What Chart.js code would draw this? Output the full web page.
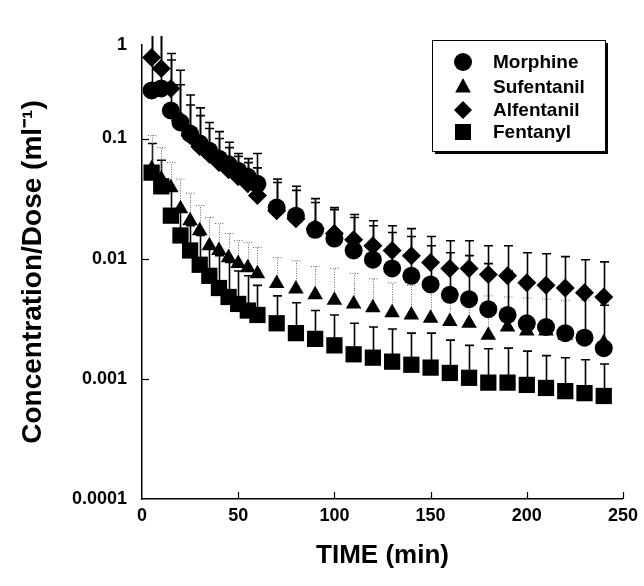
<!DOCTYPE html>
<html><head><meta charset="utf-8">
<script src="https://cdn.jsdelivr.net/npm/chart.js@4.4.0/dist/chart.umd.min.js"></script>
<style>html,body{margin:0;padding:0;background:#fff}</style>
</head><body>
<canvas id="c" width="644" height="586"></canvas>
<script>
const times = [5,10,15,20,25,30,35,40,45,50,55,60,70,80,90,100,110,120,130,140,150,160,170,180,190,200,210,220,230,240];
const seriesNames = ['Morphine','Sufentanil','Alfentanil','Fentanyl'];
const morphine = [0.251,0.261,0.171,0.136,0.110,0.091,0.079,0.068,0.061,0.054,0.048,0.042,0.0266,0.0228,0.0174,0.0147,0.0117,0.0098,0.0083,0.0072,0.0061,0.0050,0.0046,0.0038,0.0034,0.0029,0.0027,0.0024,0.0022,0.0018];
const morphineUpper = [0.79,0.79,0.51,0.37,0.23,0.18,0.136,0.114,0.093,0.075,0.068,0.075,0.043,0.037,0.0293,0.0256,0.022,0.0188,0.0165,0.0153,0.0128,0.0112,0.0106,0.0091,0.0079,0.0068,0.0062,0.0056,0.0051,0.0041];
const sufentanil = [0.056,0.046,0.039,0.026,0.0207,0.0171,0.0128,0.0117,0.0102,0.0091,0.0084,0.0075,0.0062,0.0056,0.0050,0.0045,0.0042,0.0039,0.00355,0.0034,0.0032,0.0030,0.0029,0.0023,0.0027,0.0025,0.0025,0.0023,0.0022,0.0020];
const sufentanilUpper = [0.106,0.084,0.063,0.046,0.035,0.0277,0.022,0.0196,0.0162,0.0141,0.0136,0.0124,0.0102,0.0096,0.0086,0.0083,0.0075,0.0068,0.0063,0.0060,0.0056,0.0054,0.0052,0.0049,0.0048,0.0047,0.0046,0.0045,0.0045,0.0043];
const alfentanil = [0.473,0.383,0.261,0.141,0.106,0.086,0.074,0.063,0.055,0.048,0.042,0.0335,0.0251,0.0215,0.0178,0.0162,0.0144,0.0128,0.0117,0.0106,0.0093,0.0083,0.0083,0.0074,0.0072,0.0063,0.0060,0.0057,0.0052,0.0048];
const alfentanilUpper = [0.79,0.79,0.45,0.28,0.19,0.155,0.121,0.1,0.084,0.071,0.063,0.057,0.046,0.040,0.0316,0.0266,0.0233,0.0207,0.0188,0.0178,0.0153,0.0141,0.0141,0.0128,0.0128,0.0112,0.0110,0.0104,0.0098,0.0094];
const fentanyl = [0.052,0.040,0.0228,0.0156,0.0117,0.0089,0.0072,0.0057,0.0048,0.0042,0.0037,0.0034,0.0029,0.0024,0.00215,0.0019,0.0016,0.0015,0.00139,0.00131,0.00124,0.00112,0.00102,0.00093,0.00093,0.00089,0.00084,0.00079,0.00076,0.00072];
const fentanylUpper = [0.091,0.066,0.037,0.025,0.0188,0.0156,0.0128,0.0106,0.0093,0.0079,0.0072,0.0060,0.0049,0.0043,0.0037,0.0034,0.0029,0.0027,0.0026,0.0024,0.0024,0.0021,0.0019,0.00178,0.0018,0.0017,0.00156,0.0015,0.00144,0.00133];
const yTickValues = [0.0001,0.001,0.01,0.1,0.6];
const yTickLabels = ['0.0001','0.001','0.01','0.1','1'];
const xTickValues = [0,50,100,150,200,250];

const FONT = '"Liberation Sans", Arial, Helvetica, sans-serif';

function mk(label, vals, upper, style, radius, dotted) {
  return {
    label, pointStyle: style, pointRadius: radius, pointHoverRadius: radius,
    backgroundColor: '#000', borderColor: '#000', borderWidth: 0, showLine: false,
    errUpper: upper, errDotted: dotted,
    data: times.map((t, i) => ({x: t, y: vals[i]}))
  };
}

const errorBars = {
  id: 'errorBars',
  beforeDatasetsDraw(chart) {
    const ctx = chart.ctx, xs = chart.scales.x, ys = chart.scales.y, a = chart.chartArea;
    const clipTop = a.top - 9;
    ctx.save();
    ctx.beginPath();
    ctx.rect(a.left, clipTop, a.right - a.left + 10, a.bottom - clipTop);
    ctx.clip();
    chart.data.datasets.slice().reverse().forEach(ds => {
      ctx.strokeStyle = ds.errDotted ? '#666' : '#000';
      ctx.lineWidth = ds.errDotted ? 1 : 1.6;
      ctx.setLineDash(ds.errDotted ? [1, 1.5] : []);
      ds.data.forEach((p, i) => {
        const x = Math.round(xs.getPixelForValue(p.x)) + 0.5;
        const y0 = ys.getPixelForValue(p.y);
        const y1 = ys.getPixelForValue(ds.errUpper[i]);
        ctx.beginPath();
        ctx.moveTo(x, y0); ctx.lineTo(x, y1);
        if (y1 > clipTop + 1) { ctx.moveTo(x - 4.5, y1); ctx.lineTo(x + 4.5, y1); }
        ctx.stroke();
      });
    });
    ctx.restore();
  }
};

const innerTicks = {
  id: 'innerTicks',
  afterDraw(chart) {
    const ctx = chart.ctx, xs = chart.scales.x, ys = chart.scales.y, a = chart.chartArea;
    ctx.save();
    ctx.strokeStyle = '#000'; ctx.lineWidth = 1.2;
    ys.ticks.forEach(t => {
      const y = Math.round(ys.getPixelForValue(t.value)) + 0.5;
      if (y > a.bottom - 2 || y < a.top + 2) return;
      ctx.beginPath(); ctx.moveTo(a.left, y); ctx.lineTo(a.left + 7, y); ctx.stroke();
    });
    xs.ticks.forEach(t => {
      if (t.value === 0) return;
      const x = Math.round(xs.getPixelForValue(t.value)) + 0.5;
      ctx.beginPath(); ctx.moveTo(x, a.bottom); ctx.lineTo(x, a.bottom - 7); ctx.stroke();
    });
    ctx.restore();
  }
};

const boxLegend = {
  id: 'boxLegend',
  afterDraw(chart) {
    const ctx = chart.ctx;
    const bx = 432, by = 40, bw = 173, bh = 111;
    ctx.save();
    ctx.fillStyle = '#000';
    ctx.fillRect(bx + 3, by + 3, bw, bh);
    ctx.fillStyle = '#fff';
    ctx.fillRect(bx, by, bw, bh);
    ctx.strokeStyle = '#000'; ctx.lineWidth = 1;
    ctx.strokeRect(bx + 0.5, by + 0.5, bw, bh);
    const rows = [62, 87, 110, 132];
    chart.data.datasets.forEach((ds, i) => {
      const cx = 463, cy = rows[i];
      ctx.fillStyle = '#000';
      ctx.beginPath();
      const r = 9;
      if (ds.pointStyle === 'circle') ctx.arc(cx, cy, r, 0, Math.PI * 2);
      else if (ds.pointStyle === 'triangle') { ctx.moveTo(cx, cy - r); ctx.lineTo(cx + r * 0.87, cy + r * 0.6); ctx.lineTo(cx - r * 0.87, cy + r * 0.6); ctx.closePath(); }
      else if (ds.pointStyle === 'rectRot') { ctx.moveTo(cx, cy - r); ctx.lineTo(cx + r, cy); ctx.lineTo(cx, cy + r); ctx.lineTo(cx - r, cy); ctx.closePath(); }
      else ctx.rect(cx - 8, cy - 8, 16, 16);
      ctx.fill();
      ctx.font = 'bold 19px ' + FONT;
      ctx.textBaseline = 'middle';
      ctx.fillText(ds.label, 493, cy + 1);
    });
    ctx.restore();
  }
};

new Chart(document.getElementById('c'), {
  type: 'scatter',
  data: {
    datasets: [
      mk(seriesNames[0], morphine, morphineUpper, 'circle', 9, false),
      mk(seriesNames[1], sufentanil, sufentanilUpper, 'triangle', 9, true),
      mk(seriesNames[2], alfentanil, alfentanilUpper, 'rectRot', 9.5, false),
      mk(seriesNames[3], fentanyl, fentanylUpper, 'rect', 11.5, false)
    ]
  },
  options: {
    responsive: false, animation: false, devicePixelRatio: 1,
    layout: { padding: { top: 45, right: 20, left: 0, bottom: 0 } },
    plugins: { legend: { display: false }, tooltip: { enabled: false } },
    scales: {
      x: {
        type: 'linear', min: 0, max: 250,
        afterBuildTicks: s => { s.ticks = xTickValues.map(v => ({value: v})); },
        afterFit: s => { s.height = 87; },
        grid: { display: false, drawTicks: false },
        border: { display: true, color: '#000', width: 1.5 },
        ticks: { color: '#000', padding: 6, font: { family: FONT, size: 18, weight: 'bold' }, maxRotation: 0 },
        title: { display: true, text: 'TIME (min)', color: '#000', font: { family: FONT, size: 26, weight: 'bold' }, padding: { top: 0, bottom: 15 } }
      },
      y: {
        type: 'logarithmic', min: 0.0001, max: 0.6,
        afterBuildTicks: s => { s.ticks = yTickValues.map(v => ({value: v})); },
        afterFit: s => { s.width = 142; },
        grid: { display: false, drawTicks: false },
        border: { display: true, color: '#000', width: 1.5 },
        ticks: { color: '#000', padding: 15, font: { family: FONT, size: 18, weight: 'bold' },
          callback: (v, i) => yTickLabels[i] },
        title: { display: true, text: 'Concentration/Dose (ml⁻¹)', color: '#000', font: { family: FONT, size: 28, weight: 'bold' }, padding: { top: 16, bottom: 0 } }
      }
    }
  },
  plugins: [errorBars, innerTicks, boxLegend]
});
</script>
</body></html>
